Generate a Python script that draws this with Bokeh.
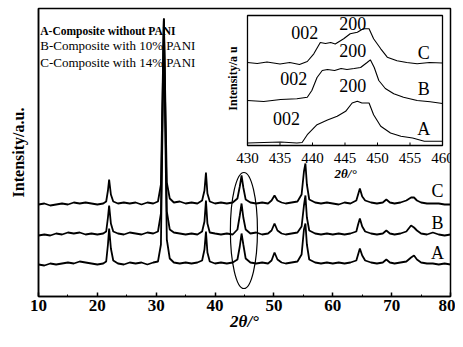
from math import pi
from bokeh.plotting import figure
from bokeh.models import Range1d, SingleIntervalTicker, FixedTicker
from bokeh.core.properties import value
from bokeh.embed import file_html
from bokeh.resources import INLINE

# ---------------- main XRD patterns (2theta grid shared by the three scans) ----------------
two_theta = [10, 11, 12, 13, 14, 15, 16, 17, 18, 19, 20, 21, 21.5, 21.8, 22.0, 22.3, 22.7,
             23.5, 24.5, 25.5, 26.5, 27.5, 28.5, 29.5, 30.3, 30.8, 31.1, 31.3, 31.5, 31.8,
             32.3, 33, 34, 35, 36, 37, 37.8, 38.2, 38.45, 38.7, 39.1, 40, 41, 42, 43, 43.8,
             44.2, 44.5, 44.8, 45.2, 46, 47, 48, 49, 49.6, 50.1, 50.6, 51.3, 52, 53, 54,
             54.7, 55.1, 55.35, 55.6, 56, 57, 58, 59, 60, 61, 62, 63, 64, 64.3, 64.6, 65,
             65.5, 66.5, 67.5, 68.5, 69.1, 69.7, 70.5, 71.5, 72.5, 73.3, 73.8, 74.3, 75,
             76, 77, 78, 79, 80]

intensity_A = [0, -1, 1, 0, 1, 2, 1, 3, 2, 1, 0, 1, 3, 20, 36, 16, 4,
               1, 0, 2, 1, 2, 0, 2, 3, 20, 150, 244, 150, 25,
               6, 2, 1, 2, 1, 2, 4, 15, 33, 12, 3, 1, 2, 1, 2, 5,
               18, 31, 20, 6, 2, 1, 2, 1, 4, 12, 5, 2, 1, 2, 3,
               10, 35, 41, 20, 5, 2, 1, 2, 1, 2, 1, 2, 4, 10, 16, 9,
               4, 2, 1, 2, 5, 2, 1, 2, 3, 7, 9, 5, 2,
               1, 1, 0, 1, 0]

intensity_B = [0, 1, 0, 2, 1, 3, 2, 3, 1, 2, 1, 2, 4, 18, 30, 12, 4,
               2, 1, 3, 2, 1, 3, 2, 4, 22, 140, 217, 140, 24,
               6, 3, 2, 1, 2, 1, 4, 14, 35, 12, 3, 2, 1, 2, 1, 6,
               20, 32, 18, 6, 2, 3, 1, 2, 5, 12, 5, 2, 1, 2, 3,
               9, 30, 40, 18, 5, 2, 1, 2, 1, 2, 1, 2, 4, 11, 17, 9,
               4, 2, 1, 2, 5, 2, 1, 2, 4, 10, 8, 5, 2,
               1, 3, 1, 0, 1]

intensity_C = [0, 1, -1, 0, 1, 0, 2, 1, 2, 1, 0, 1, 3, 14, 25, 10, 3,
               1, 2, 1, 2, 0, 2, 1, 3, 20, 120, 186, 120, 22,
               6, 2, 3, 1, 2, 1, 4, 14, 32, 11, 3, 1, 2, 1, 2, 6,
               18, 29, 17, 5, 2, 1, 2, 1, 4, 9, 4, 2, 1, 2, 3,
               10, 33, 41, 20, 5, 2, 1, 2, 1, 0, 2, 1, 4, 10, 16, 8,
               4, 2, 1, 2, 5, 2, 1, 2, 4, 7, 7, 4, 2,
               1, 1, 1, 0, 0]

legend_lines = ["A-Composite without PANI", "B-Composite with 10% PANI", "C-Composite with 14% PANI"]
curve_names = ["A", "B", "C"]

# ---------------- inset (enlarged 430-460 region) ----------------
inset_x_A = [430.0, 432.5, 435.1, 437.6, 438.4, 439.2, 440.7, 442.3, 443.8, 445.1, 446.1,
             446.9, 447.6, 448.7, 449.4, 450.5, 452.0, 453.6, 455.4, 457.2, 460.0]
inset_A = [0, 0.5, 1, 0, 0.5, 8.3, 18.3, 23, 26.7, 31.7, 40,
           41.7, 40, 40, 28.3, 16.7, 10, 6.7, 5, 1.7, 1.7]

inset_x_B = [430.0, 432.5, 435.1, 437.6, 439.2, 439.9, 440.7, 441.5, 442.3, 443.4, 444.4,
             445.3, 446.4, 447.4, 448.4, 448.9, 449.5, 450.2, 451.2, 452.5, 454.0, 456.1,
             458.1, 460.0]
inset_B = [0, -1, 1, 1.7, 3.3, 10, 23, 30, 31, 30, 32,
           31, 32, 33, 38, 40.7, 33, 20, 12, 6.7, 3.3, 0,
           -1.3, -3]

inset_x_C = [430.0, 431.5, 433.0, 435.0, 436.5, 438.0, 439.2, 440.2, 441.2, 442.0, 442.8,
             443.5, 444.8, 445.8, 446.9, 447.8, 448.7, 449.4, 450.5, 451.5, 453.0, 454.5,
             456.1, 458.0, 460.0]
inset_C = [0, -1, 0.5, -1.5, 0, -2, 1, 8.7, 20, 19, 20,
           18.5, 23.7, 28.7, 30.3, 33.7, 33.7, 23.7, 13.7, 5.3, 1.7, 0,
           -1.3, 0, -0.5]

inset_ticks = [430, 435, 440, 445, 450, 455, 460]
inset_peak_labels = ["002", "200"]

# ---------------- styling / placement (not data) ----------------
SERIF = "Liberation Serif"
main_offsets = {"A": 32, "B": 61, "C": 92}
inset_offsets = {"A": 2.5, "B": 45, "C": 83}

p = figure(width=455, height=339, output_backend="svg", toolbar_location=None,
           x_range=Range1d(10, 80), y_range=Range1d(0, 288),
           min_border_left=38, min_border_right=5, min_border_top=8, min_border_bottom=43)
p.extra_x_ranges = {"ix": Range1d(397.85, 461.23)}
p.extra_y_ranges = {"iy": Range1d(-151, 137)}
p.background_fill_color = "white"
p.border_fill_color = "white"
p.xgrid.visible = False
p.ygrid.visible = False
p.outline_line_color = "black"
p.outline_line_width = 1.5

# x axis
p.xaxis.ticker = SingleIntervalTicker(interval=10, num_minor_ticks=2)
p.xaxis.major_tick_in = 4
p.xaxis.major_tick_out = 0
p.xaxis.minor_tick_in = 2
p.xaxis.minor_tick_out = 0
p.xaxis.axis_line_width = 1.5
p.xaxis.major_tick_line_width = 1.5
p.xaxis.major_label_text_font = SERIF
p.xaxis.major_label_text_font_style = "bold"
p.xaxis.major_label_text_font_size = "17px"
p.xaxis.major_label_text_color = "black"
p.xaxis.major_label_standoff = 3
p.xaxis.axis_label = "2θ/°"
p.xaxis.axis_label_text_font = SERIF
p.xaxis.axis_label_text_font_style = "bold italic"
p.xaxis.axis_label_text_font_size = "17px"
p.xaxis.axis_label_text_color = "black"
p.xaxis.axis_label_standoff = -2

# y axis
p.yaxis.ticker = FixedTicker(ticks=[])
p.yaxis.major_tick_in = 0
p.yaxis.major_tick_out = 0
p.yaxis.minor_tick_in = 0
p.yaxis.minor_tick_out = 0
p.yaxis.axis_line_width = 1.5
p.yaxis.major_label_standoff = 0
p.yaxis.axis_label = "Intensity/a.u."
p.yaxis.axis_label_text_font = SERIF
p.yaxis.axis_label_text_font_style = "bold"
p.yaxis.axis_label_text_font_size = "16px"
p.yaxis.axis_label_text_color = "black"
p.yaxis.axis_label_standoff = 12

# main curves
for name, vals in zip(curve_names, [intensity_A, intensity_B, intensity_C]):
    ys = [v + main_offsets[name] for v in vals]
    p.line(two_theta, ys, line_color="black", line_width=1.8)

# curve letters on the right
p.text(x=[77.8, 77.8, 77.8], y=[44, 74, 106], text=curve_names,
       text_font=value(SERIF), text_font_size=value("18px"), text_color="black",
       text_align="center", text_baseline="middle")

# legend text in top-left
p.text(x=[10.3], y=[266], text=[legend_lines[0]], text_font=value(SERIF),
       text_font_size=value("11.5px"), text_font_style="bold", text_color="black",
       text_align="left", text_baseline="middle")
p.text(x=[10.3, 10.3], y=[251, 234], text=legend_lines[1:], text_font=value(SERIF),
       text_font_size=value("13px"), text_color="black",
       text_align="left", text_baseline="middle")

# ellipse around the 44-45 degree peaks
p.ellipse(x=[44.9], y=[66], width=4.6, height=116, fill_alpha=0,
          line_color="black", line_width=1.2)

# ---------------- inset ----------------
p.quad(left=[430], right=[460], bottom=[0], top=[130], fill_color="white",
       line_color="black", line_width=1.3, x_range_name="ix", y_range_name="iy")
p.segment(x0=inset_ticks, y0=[0] * len(inset_ticks), x1=inset_ticks, y1=[3] * len(inset_ticks),
          line_color="black", line_width=1, x_range_name="ix", y_range_name="iy")
for name, xs, vals in zip(curve_names, [inset_x_A, inset_x_B, inset_x_C], [inset_A, inset_B, inset_C]):
    ys = [v + inset_offsets[name] for v in vals]
    p.line(xs, ys, line_color="black", line_width=1.1, x_range_name="ix", y_range_name="iy")

p.text(x=inset_ticks, y=[-12] * len(inset_ticks), text=[str(t) for t in inset_ticks],
       text_font=value(SERIF), text_font_size=value("15px"), text_color="black",
       text_align="center", text_baseline="middle", x_range_name="ix", y_range_name="iy")
p.text(x=[445.1], y=[-28], text=["2θ/°"], text_font=value(SERIF), text_font_size=value("13px"),
       text_font_style="bold italic", text_color="black", text_align="center",
       text_baseline="middle", x_range_name="ix", y_range_name="iy")
p.text(x=[427.8], y=[67], text=["Intensity/a u"], angle=pi / 2, text_font=value(SERIF),
       text_font_size=value("12px"), text_font_style="bold", text_color="black",
       text_align="center", text_baseline="middle", x_range_name="ix", y_range_name="iy")
p.text(x=[438.8, 437.1, 436.0], y=[113, 67, 27], text=[inset_peak_labels[0]] * 3,
       text_font=value(SERIF), text_font_size=value("18px"), text_color="black",
       text_align="center", text_baseline="middle", x_range_name="ix", y_range_name="iy")
p.text(x=[446.2, 446.2, 446.2], y=[122, 95, 60], text=[inset_peak_labels[1]] * 3,
       text_font=value(SERIF), text_font_size=value("18px"), text_color="black",
       text_align="center", text_baseline="middle", x_range_name="ix", y_range_name="iy")
p.text(x=[457.1, 457.1, 457.1], y=[17, 57, 93], text=curve_names,
       text_font=value(SERIF), text_font_size=value("18px"), text_color="black",
       text_align="center", text_baseline="middle", x_range_name="ix", y_range_name="iy")

open("out.html", "w").write(file_html(p, INLINE))
